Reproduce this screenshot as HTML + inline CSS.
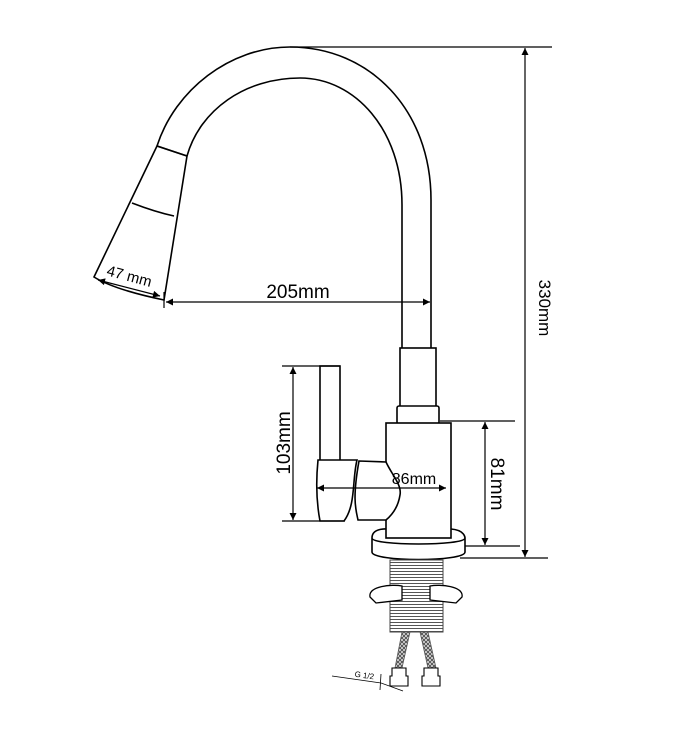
<!DOCTYPE html>
<html><head><style>html,body{margin:0;padding:0;background:#fff}svg{display:block}</style></head>
<body>
<svg width="684" height="731" viewBox="0 0 684 731" xmlns="http://www.w3.org/2000/svg" font-family="Liberation Sans, Arial, sans-serif">
<defs>
<marker id="a" viewBox="0 0 10 10" refX="10" refY="5" markerWidth="9" markerHeight="7" orient="auto-start-reverse" markerUnits="userSpaceOnUse"><path d="M0,0L10,5L0,10z" fill="#000"/></marker>
<pattern id="th" width="4" height="3" patternUnits="userSpaceOnUse"><rect width="4" height="3" fill="#fff"/><line x1="0" y1="1.5" x2="4" y2="1.5" stroke="#555" stroke-width="1"/></pattern>
<pattern id="br" width="4" height="4" patternUnits="userSpaceOnUse"><rect width="4" height="4" fill="#ddd"/><path d="M0,0L4,4M4,0L0,4" stroke="#444" stroke-width="0.8"/></pattern>
</defs>
<g fill="none" stroke="#000" stroke-width="1.6">
<path d="M431,348 L431,200 C431,110 370,47 290,47 C230,47 175,90 157,146"/>
<path d="M402,348 L402,205 C402,130 355,78 300,78 C245,78 200,110 187,156"/>
<path d="M157,146 L94,277 C110,287 140,295 164,300 L187,156 Z" fill="#fff"/>
<path d="M157,146 L187,156"/>
<path d="M132,203 C145,208 160,213 174,216"/>
<rect x="400" y="348" width="36" height="60"/>
<rect x="397" y="406" width="42" height="18" rx="2" fill="#fff"/>
<rect x="386" y="423" width="65" height="115" fill="#fff"/>
<path d="M372,538 C372,528 386,529 386,529 M451,529 C465,530 465,538 465,538 L465,552 C465,562 372,562 372,552 L372,538 C372,546 465,546 465,538" fill="#fff"/>
<rect x="320" y="366" width="20" height="95" fill="#fff"/>
<path d="M318,460 L357,460 C352,480 356,505 344,521 L320,521 C316,500 316,480 318,460 Z" fill="#fff"/>
<path d="M359,461 L386,462 C392,475 402,485 400,495 C398,508 392,515 386,520 L358,520 C356,510 352,500 359,461 Z" fill="#fff"/>
<rect x="390" y="560" width="53" height="72" fill="url(#th)" stroke="#444" stroke-width="1"/>
<path d="M370,597 C368,586 392,584 402,586 L402,600 L376,603 Z M462,597 C464,586 440,584 430,586 L430,600 L456,603 Z" fill="#fff" stroke-width="1.3"/>
<path d="M402,632 L410,632 L402,668 L395,668 Z M420,632 L428,632 L436,668 L428,668 Z" fill="url(#br)" stroke="#555" stroke-width="0.8"/>
<path d="M392,668 h14 v8 h2 v10 h-18 v-10 h2 z M424,668 h14 v8 h2 v10 h-18 v-10 h2 z" fill="#fff" stroke-width="1.1"/>
<g stroke-width="1.2">
<line x1="290" y1="47" x2="552" y2="47"/>
<line x1="460" y1="558" x2="548" y2="558"/>
<line x1="525" y1="48" x2="525" y2="557" marker-start="url(#a)" marker-end="url(#a)"/>
<line x1="166" y1="302" x2="430" y2="302" marker-start="url(#a)" marker-end="url(#a)"/>
<line x1="164" y1="292" x2="164" y2="308"/>
<line x1="98" y1="280" x2="160" y2="296" marker-start="url(#a)" marker-end="url(#a)"/>
<line x1="282" y1="366" x2="340" y2="366"/>
<line x1="282" y1="521" x2="345" y2="521"/>
<line x1="293" y1="367" x2="293" y2="520" marker-start="url(#a)" marker-end="url(#a)"/>
<line x1="317" y1="488" x2="446" y2="488" marker-start="url(#a)" marker-end="url(#a)"/>
<line x1="440" y1="421" x2="515" y2="421"/>
<line x1="465" y1="546" x2="520" y2="546"/>
<line x1="485" y1="422" x2="485" y2="545" marker-start="url(#a)" marker-end="url(#a)"/>
<line x1="332" y1="676" x2="381" y2="683" stroke-width="0.8"/>
<line x1="381" y1="683" x2="403" y2="691" stroke-width="0.8"/>
<line x1="381" y1="674" x2="380" y2="690" stroke-width="0.8"/>
</g>
</g>
<g fill="#000">
<text x="298" y="298" font-size="19" text-anchor="middle">205mm</text>
<text x="128" y="281" font-size="15" text-anchor="middle" transform="rotate(15 128 281)">47 mm</text>
<text x="414" y="484" font-size="16" text-anchor="middle">86mm</text>
<text transform="translate(290 443) rotate(-90)" font-size="19" text-anchor="middle">103mm</text>
<text transform="translate(491 484) rotate(90)" font-size="19" text-anchor="middle">81mm</text>
<text transform="translate(539 308) rotate(90)" font-size="17" text-anchor="middle">330mm</text>
<text transform="translate(364 678) rotate(8)" font-size="8" text-anchor="middle">G 1/2</text>
</g>
</svg>
</body></html>
